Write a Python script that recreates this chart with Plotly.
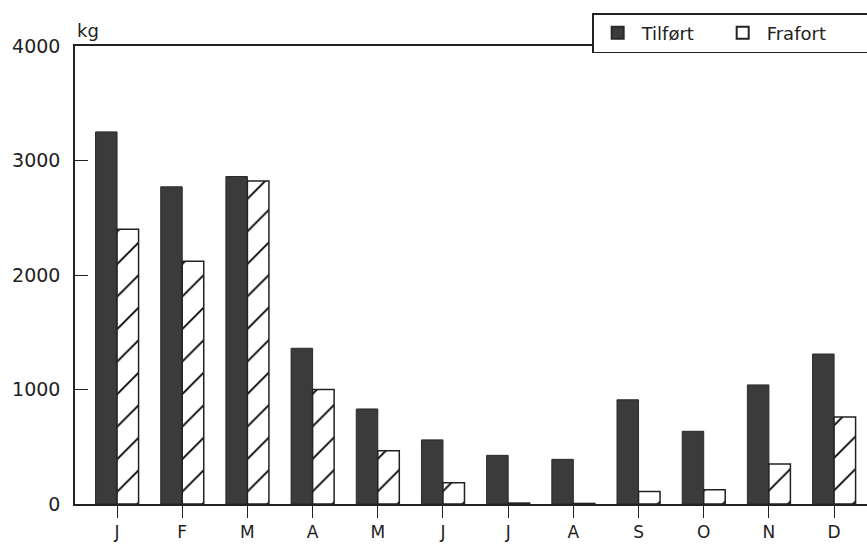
import plotly.graph_objects as go

months = ["J", "F", "M", "A", "M", "J", "J", "A", "S", "O", "N", "D"]
tilfort = [3250, 2770, 2860, 1360, 830, 560, 425, 390, 910, 635, 1040, 1310]
frafort = [2400, 2120, 2820, 1000, 465, 185, 8, 5, 110, 125, 350, 760]
yticks = [0, 1000, 2000, 3000, 4000]

xpos = list(range(len(months)))
font = "DejaVu Sans"
ink = "#222222"
dark = "#3b3b3b"

fig = go.Figure()
fig.add_trace(go.Bar(
    x=xpos, y=tilfort, name="Tilført", showlegend=False, offsetgroup="a",
    marker=dict(color=dark, line=dict(color="#2a2a2a", width=1)),
))
fig.add_trace(go.Bar(
    x=xpos, y=frafort, name="Frafort", showlegend=False, offsetgroup="b",
    marker=dict(color="white", line=dict(color=ink, width=1.5),
                pattern=dict(shape="/", fgcolor="#000000", bgcolor="white",
                             fgopacity=1, size=23, solidity=0.08)),
))
# legend entries (no data, same groups)
fig.add_trace(go.Bar(x=[None], y=[None], name="Tilført", offsetgroup="a",
                     legendwidth=72,
                     marker=dict(color=dark, line=dict(color="#2a2a2a", width=1))))
fig.add_trace(go.Bar(x=[None], y=[None], name="Frafort", offsetgroup="b",
                     legendwidth=140,
                     marker=dict(color="white", line=dict(color=ink, width=1.5))))

fig.update_layout(
    width=867, height=544,
    margin=dict(l=75, r=0, t=46, b=40, autoexpand=False),
    paper_bgcolor="white", plot_bgcolor="white",
    barmode="group", bargap=0.34, bargroupgap=0,
    font=dict(family=font, size=17, color=ink),
    showlegend=True,
    legend=dict(
        orientation="h", x=0.653, y=1.072, xanchor="left", yanchor="top",
        bordercolor=ink, borderwidth=1.5, bgcolor="white",
        font=dict(family=font, size=18, color=ink),
        entrywidthmode="pixels", itemwidth=38,
        itemsizing="constant",
    ),
    xaxis=dict(
        range=[-0.645, 11.505], tickmode="array", tickvals=xpos, ticktext=months,
        showline=True, linecolor=ink, linewidth=1.5, mirror=True,
        ticks="outside", ticklen=12, tickcolor=ink, tickwidth=1.2,
        showgrid=False, zeroline=False,
        tickfont=dict(family=font, size=17, color=ink),
    ),
    yaxis=dict(
        range=[0, 4000], tickmode="array", tickvals=yticks,
        ticktext=[str(v) for v in yticks],
        showline=True, linecolor=ink, linewidth=1.5,
        ticks="inside", ticklen=13, tickcolor=ink, tickwidth=1.2,
        showgrid=False, zeroline=False, ticklabelstandoff=9,
        tickfont=dict(family=font, size=19, color=ink),
    ),
    annotations=[dict(
        text="kg", xref="paper", yref="paper", x=0, y=1, xanchor="left",
        yanchor="bottom", showarrow=False, xshift=0, yshift=3,
        font=dict(family=font, size=18, color=ink),
    )],
)

fig.write_html("out.html", config={"displayModeBar": False},
               post_script="document.body.style.margin='0';document.body.style.overflow='hidden';")
